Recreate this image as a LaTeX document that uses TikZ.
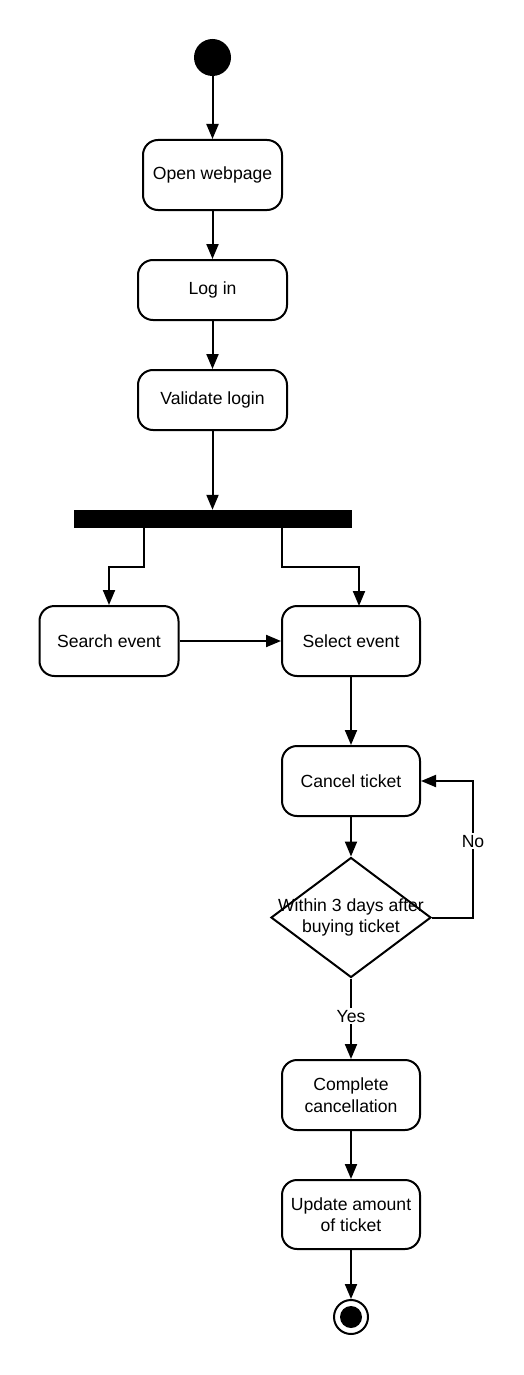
\documentclass[tikz,border=0pt]{standalone}
\usepackage{fontspec}
\setmainfont{Liberation Sans}
\usetikzlibrary{shapes.geometric,arrows.meta}
\begin{document}
\begin{tikzpicture}[x=1pt,y=-1pt,
  every node/.style={font=\fontsize{17.6}{21.5}\selectfont},
  act/.style={draw,line width=2pt,rounded corners=15pt,align=center,inner sep=0pt},
  conn/.style={draw,line width=2pt,-{Triangle[length=15pt,width=12pt]}},
  lbl/.style={fill=white,inner sep=2pt}]
\useasboundingbox[fill=white] (0,0) rectangle (524,1375);
\node[circle,fill=black,minimum size=37pt,inner sep=0pt] (start) at (212.5,57.5) {};
\node[act,minimum width=139pt,minimum height=70pt] (open) at (212.5,175) {Open webpage};
\node[act,minimum width=149pt,minimum height=60pt] (login) at (212.5,290) {Log in};
\node[act,minimum width=149pt,minimum height=60pt] (validate) at (212.5,400) {Validate login};
\node[fill=black,minimum width=278pt,minimum height=18pt,inner sep=0pt] (bar) at (213,519) {};
\node[act,minimum width=139pt,minimum height=70pt] (search) at (109,641) {Search event};
\node[act,minimum width=138pt,minimum height=70pt] (select) at (351,641) {Select event};
\node[act,minimum width=138pt,minimum height=70pt] (cancel) at (351,781) {Cancel ticket};
\node[diamond,draw,line width=2pt,minimum width=160pt,minimum height=120pt,inner sep=0pt,
  label={[align=center]center:Within 3 days after\\buying ticket}] (dec) at (351,917.5) {};
\node[act,minimum width=138pt,minimum height=70pt] (complete) at (351,1095) {Complete\\cancellation};
\node[act,minimum width=138pt,minimum height=69pt] (update) at (351,1214.5) {Update amount\\of ticket};
\node[circle,draw,line width=2pt,minimum size=34pt,inner sep=0pt] (end) at (351,1317) {};
\node[circle,fill=black,minimum size=22pt,inner sep=0pt] (endin) at (end) {};
\coordinate (lb) at (144,528);
\coordinate (rb) at (282,528);
\coordinate (loop) at (473,781);
\draw[conn] (start) -- (open);
\draw[conn] (open) -- (login);
\draw[conn] (login) -- (validate);
\draw[conn] (validate.south) -- (validate.south |- bar.north);
\draw[conn] (lb) -- (144,567) -- (109,567) -- (search.north);
\draw[conn] (rb) -- (282,567) -- (359,567) -- (359,606);
\draw[conn] (search.east) -- (select.west);
\draw[conn] (select) -- (cancel);
\draw[conn] (cancel) -- (dec);
\draw[conn] (dec.east) -| (loop) node[lbl,pos=0.78] {No} -- (cancel.east);
\draw[conn] (dec.south) -- node[lbl,pos=0.47] {Yes} (complete.north);
\draw[conn] (complete) -- (update);
\draw[conn] (update) -- (end);
\end{tikzpicture}
\end{document}
